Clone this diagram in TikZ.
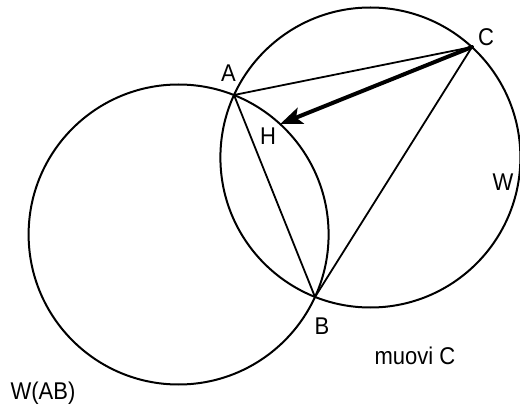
\documentclass[tikz,border=0pt]{standalone}
\usepackage{fontspec}
\setmainfont{Liberation Sans}
\usetikzlibrary{arrows.meta}

\newcommand{\tallbox}[1]{\scalebox{1}[1.1]{#1}}

\begin{document}
\begin{tikzpicture}[x=1pt, y=-1pt, line join=round, line cap=round,
    lbl/.style={font=\fontsize{22}{26}\selectfont, inner sep=0pt}]
        \useasboundingbox (0,0) rectangle (520,409);

        \coordinate (A) at (234,95);
        \coordinate (B) at (315,297);
        \coordinate (C) at (472,47);
        \coordinate (H) at (280.2,124);
        \coordinate (O) at (370.4,157.5);
        \coordinate (Oab) at (178.6,234.5);

        \draw[line width=2pt] (O) circle (150);
        \draw[line width=2pt] (Oab) circle (150);
        \draw[line width=1.8pt] (A) -- (B) -- (C) -- cycle;
        \draw[line width=4pt, -{Stealth[length=22pt, width=17pt, inset=5pt]}] (C) -- (H);

        \node[lbl] (labA) at (228.5,73) {\tallbox{A}};
        \node[lbl] (labB) at (322,326) {\tallbox{B}};
        \node[lbl] (labC) at (486,37) {\tallbox{C}};
        \node[lbl] (labH) at (268,136) {\tallbox{H}};
        \node[lbl] (labW) at (503,182) {\tallbox{W}};
        \node[lbl] (move) at (415,356) {\tallbox{muovi C}};
        \node[lbl] (labWAB) at (43,393) {\tallbox{W(AB)}};
    \end{tikzpicture}
\end{document}
